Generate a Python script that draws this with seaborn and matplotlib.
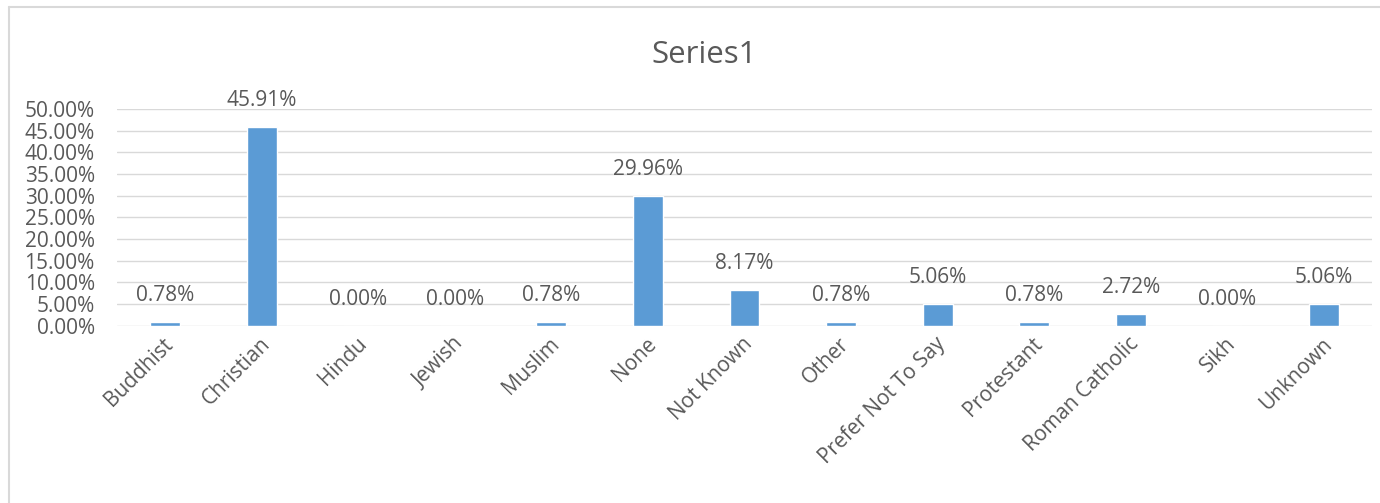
import matplotlib
matplotlib.use("Agg")
import matplotlib.pyplot as plt
import matplotlib.transforms as mtransforms
from matplotlib.lines import Line2D
import seaborn as sns
import pandas as pd

categories = ["Buddhist", "Christian", "Hindu", "Jewish", "Muslim", "None",
              "Not Known", "Other", "Prefer Not To Say", "Protestant",
              "Roman Catholic", "Sikh", "Unknown"]
values = [0.78, 45.91, 0.00, 0.00, 0.78, 29.96, 8.17, 0.78, 5.06, 0.78,
          2.72, 0.00, 5.06]
y_ticks = [0, 5, 10, 15, 20, 25, 30, 35, 40, 45, 50]
title = "Series1"

sns.set_theme(style="white")
plt.rcParams["font.family"] = ["Open Sans", "DejaVu Sans"]

TEXT = "#595959"
BAR = "#5B9BD5"
GRID = "#D9D9D9"
FS = 15

df = pd.DataFrame({"category": categories, "value": values})

fig = plt.figure(figsize=(13.8, 5.03), dpi=100)
ax = fig.add_axes([0.0848, 0.3525, 0.9094, 0.4308])

sns.barplot(data=df, x="category", y="value", color=BAR, width=0.31,
            saturation=1, ax=ax, zorder=3)

ax.set_ylim(0, 50)
ax.set_xlim(-0.5, len(categories) - 0.5)
ax.set_yticks(y_ticks)
ax.set_yticklabels([f"{t:.2f}%" for t in y_ticks])
for t in y_ticks:
    ax.axhline(t, color=GRID, lw=1.0, zorder=1)

for s in ax.spines.values():
    s.set_visible(False)

ax.tick_params(axis="y", length=0, pad=16, labelsize=FS, labelcolor=TEXT)
ax.tick_params(axis="x", length=0, pad=11, labelsize=FS, labelcolor=TEXT)
ax.set_xticks(range(len(categories)))
ax.set_xticklabels(categories, rotation=45, ha="right", va="center",
                   rotation_mode="anchor")
# nudge the slanted category labels so their ends sit just right of each bar
shift = mtransforms.ScaledTranslation(5 / 100, 0, fig.dpi_scale_trans)
for lbl in ax.get_xticklabels():
    lbl.set_transform(lbl.get_transform() + shift)
ax.set_xlabel("")
ax.set_ylabel("")

for i, v in enumerate(values):
    ax.annotate(f"{v:.2f}%", xy=(i, v), xytext=(0, 15),
                textcoords="offset points", ha="center", va="baseline",
                fontsize=FS, color=TEXT)

fig.text(0.51, 0.875, title, ha="center", va="baseline", fontsize=22.5,
         color=TEXT)

# chart area frame (left and top edges)
fig.add_artist(Line2D([9 / 1380, 9 / 1380], [0, 1 - 7 / 503],
                      transform=fig.transFigure, color="#D9D9D9", lw=1.5))
fig.add_artist(Line2D([9 / 1380, 1], [1 - 7 / 503, 1 - 7 / 503],
                      transform=fig.transFigure, color="#D9D9D9", lw=1.5))

fig.savefig("out.png", dpi=100, facecolor="white")
